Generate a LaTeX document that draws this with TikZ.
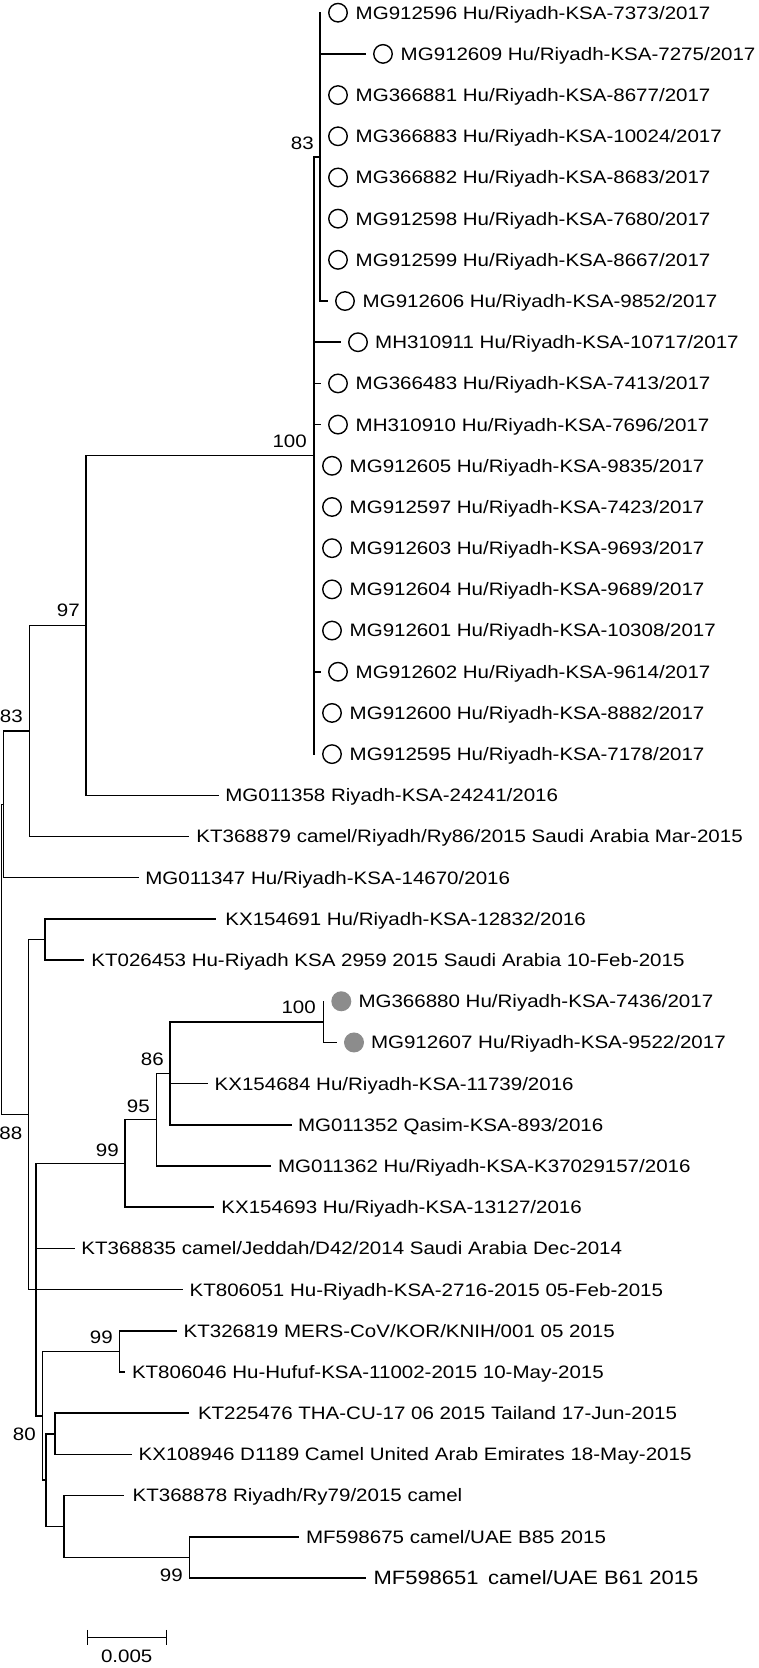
\documentclass[tikz,border=0pt]{standalone}
\usepackage{fontspec}
\setmainfont{Liberation Sans}[FakeStretch=1.14]
\newcommand\mkleaf[5]{%
  \coordinate (#1) at (#3,{12.7+41.19*#2});
  \node[lbl] (#1t) at (#4-1.5,{12.7+41.19*#2}) {#5};}
\newcommand\mkopen[1]{\node[openc] (#1m) at ([xshift=18pt]#1) {};}
\newcommand\mkfill[1]{\node[fillc] (#1m) at ([xshift=18pt]#1) {};}
\begin{document}
\begin{tikzpicture}[x=1pt,y=-1pt,
  br/.style={line width=1.5pt,line cap=rect},
  lbl/.style={anchor=base west,inner sep=0pt,yshift=-6.4pt,font=\fontsize{18}{22}\selectfont},
  biglbl/.style={lbl,font=\fontsize{19.3}{23}\selectfont},
  bs/.style={anchor=east,inner sep=0pt,font=\fontsize{18}{22}\selectfont},
  openc/.style={circle,draw=black,line width=1.4pt,minimum size=18.5pt,inner sep=0pt},
  fillc/.style={circle,fill=black!45,minimum size=20pt,inner sep=0pt}]
\useasboundingbox (0,0) rectangle (758,1668);
% internal nodes
\coordinate (n83a) at (320,156.85);
\coordinate (n100a) at (314,455.5);
\coordinate (n97) at (86,625.4);
\coordinate (n83b) at (29.3,731.0);
\coordinate (nA) at (3.3,804.3);
\coordinate (root) at (1.5,959.4);
\coordinate (n88) at (28.3,1114.55);
\coordinate (nKX) at (45,939.5);
\coordinate (n36) at (36,1289.6);
\coordinate (n99a) at (125,1163.45);
\coordinate (n95) at (156.7,1119.7);
\coordinate (n86) at (170,1073.35);
\coordinate (n100b) at (323.3,1021.9);
\coordinate (n80) at (42.7,1415.75);
\coordinate (n99b) at (119.3,1351.4);
\coordinate (nB) at (46,1480.1);
\coordinate (nKTKX) at (55,1433.8);
\coordinate (nKTMF) at (64,1526.4);
\coordinate (n99c) at (189.3,1557.3);
% leaves
\mkleaf{L0}{0}{320}{357}{MG912596 Hu/Riyadh-KSA-7373/2017}
\mkleaf{L1}{1}{365}{402}{MG912609 Hu/Riyadh-KSA-7275/2017}
\mkleaf{L2}{2}{320}{357}{MG366881 Hu/Riyadh-KSA-8677/2017}
\mkleaf{L3}{3}{320}{357}{MG366883 Hu/Riyadh-KSA-10024/2017}
\mkleaf{L4}{4}{320}{357}{MG366882 Hu/Riyadh-KSA-8683/2017}
\mkleaf{L5}{5}{320}{357}{MG912598 Hu/Riyadh-KSA-7680/2017}
\mkleaf{L6}{6}{320}{357}{MG912599 Hu/Riyadh-KSA-8667/2017}
\mkleaf{L7}{7}{327}{364}{MG912606 Hu/Riyadh-KSA-9852/2017}
\mkleaf{L8}{8}{340}{376.5}{MH310911 Hu/Riyadh-KSA-10717/2017}
\mkleaf{L9}{9}{320}{357}{MG366483 Hu/Riyadh-KSA-7413/2017}
\mkleaf{L10}{10}{320}{357}{MH310910 Hu/Riyadh-KSA-7696/2017}
\mkleaf{L11}{11}{314}{351}{MG912605 Hu/Riyadh-KSA-9835/2017}
\mkleaf{L12}{12}{314}{351}{MG912597 Hu/Riyadh-KSA-7423/2017}
\mkleaf{L13}{13}{314}{351}{MG912603 Hu/Riyadh-KSA-9693/2017}
\mkleaf{L14}{14}{314}{351}{MG912604 Hu/Riyadh-KSA-9689/2017}
\mkleaf{L15}{15}{314}{351}{MG912601 Hu/Riyadh-KSA-10308/2017}
\mkleaf{L16}{16}{320}{357}{MG912602 Hu/Riyadh-KSA-9614/2017}
\mkleaf{L17}{17}{314}{351}{MG912600 Hu/Riyadh-KSA-8882/2017}
\mkleaf{L18}{18}{314}{351}{MG912595 Hu/Riyadh-KSA-7178/2017}
\mkleaf{L19}{19}{218.3}{226.7}{MG011358 Riyadh-KSA-24241/2016}
\mkleaf{L20}{20}{188.3}{197.7}{KT368879 camel/Riyadh/Ry86/2015 Saudi Arabia Mar-2015}
\mkleaf{L21}{21}{138.3}{146.7}{MG011347 Hu/Riyadh-KSA-14670/2016}
\mkleaf{L22}{22}{215}{226.7}{KX154691 Hu/Riyadh-KSA-12832/2016}
\mkleaf{L23}{23}{83.3}{92.7}{KT026453 Hu-Riyadh KSA 2959 2015 Saudi Arabia 10-Feb-2015}
\mkleaf{L24}{24}{323.3}{359.8}{MG366880 Hu/Riyadh-KSA-7436/2017}
\mkleaf{L25}{25}{336}{372.3}{MG912607 Hu/Riyadh-KSA-9522/2017}
\mkleaf{L26}{26}{207.3}{216}{KX154684 Hu/Riyadh-KSA-11739/2016}
\mkleaf{L27}{27}{291.7}{299.3}{MG011352 Qasim-KSA-893/2016}
\mkleaf{L28}{28}{270}{279.3}{MG011362 Hu/Riyadh-KSA-K37029157/2016}
\mkleaf{L29}{29}{213.3}{222.7}{KX154693 Hu/Riyadh-KSA-13127/2016}
\mkleaf{L30}{30}{74}{82.7}{KT368835 camel/Jeddah/D42/2014 Saudi Arabia Dec-2014}
\mkleaf{L31}{31}{182.7}{191}{KT806051 Hu-Riyadh-KSA-2716-2015 05-Feb-2015}
\mkleaf{L32}{32}{176.7}{185}{KT326819 MERS-CoV/KOR/KNIH/001 05 2015}
\mkleaf{L33}{33}{124}{133.3}{KT806046 Hu-Hufuf-KSA-11002-2015 10-May-2015}
\mkleaf{L34}{34}{188.3}{199.3}{KT225476 THA-CU-17 06 2015 Tailand 17-Jun-2015}
\mkleaf{L35}{35}{131.7}{140}{KX108946 D1189 Camel United Arab Emirates 18-May-2015}
\mkleaf{L36}{36}{123.3}{134}{KT368878 Riyadh/Ry79/2015 camel}
\mkleaf{L37}{37}{298.3}{307.3}{MF598675 camel/UAE B85 2015}
\coordinate (L38) at (365,{12.7+41.19*38});
\node[biglbl] (L38t) at (373.3,{12.7+41.19*38}) {MF598651\, camel/UAE B61 2015};
% markers
\foreach \k in {0,...,18}{\mkopen{L\k}}
\mkfill{L24}
\mkfill{L25}
% branches
\foreach \k in {0,...,7}{\draw[br] (n83a) |- (L\k);}
\draw[br] (n100a) |- (n83a);
\foreach \k in {8,...,18}{\draw[br] (n100a) |- (L\k);}
\draw[br] (n97) |- (n100a);
\draw[br] (n97) |- (L19);
\draw[br] (n83b) |- (n97);
\draw[br] (n83b) |- (L20);
\draw[br] (nA) |- (n83b);
\draw[br] (nA) |- (L21);
\draw[br] (root) |- (nA);
\draw[br] (root) |- (n88);
\draw[br] (n88) |- (nKX);
\draw[br] (n88) |- (n36);
\draw[br] (n88) |- (L31);
\draw[br] (nKX) |- (L22);
\draw[br] (nKX) |- (L23);
\draw[br] (n36) |- (n99a);
\draw[br] (n36) |- (L30);
\draw[br] (n36) |- (n80);
\draw[br] (n99a) |- (n95);
\draw[br] (n99a) |- (L29);
\draw[br] (n95) |- (n86);
\draw[br] (n95) |- (L28);
\draw[br] (n86) |- (n100b);
\draw[br] (n86) |- (L26);
\draw[br] (n86) |- (L27);
\draw[br] (n100b) |- (L24);
\draw[br] (n100b) |- (L25);
\draw[br] (n80) |- (n99b);
\draw[br] (n80) |- (nB);
\draw[br] (n99b) |- (L32);
\draw[br] (n99b) |- (L33);
\draw[br] (nB) |- (nKTKX);
\draw[br] (nB) |- (nKTMF);
\draw[br] (nKTKX) |- (L34);
\draw[br] (nKTKX) |- (L35);
\draw[br] (nKTMF) |- (L36);
\draw[br] (nKTMF) |- (n99c);
\draw[br] (n99c) |- (L37);
\draw[br] (n99c) |- (L38);
% bootstrap values
\node[bs] (b83a) at (314,143.3) {83};
\node[bs] (b100a) at (307,441.7) {100};
\node[bs] (b97) at (80,610.7) {97};
\node[bs] (b83b) at (23,716.7) {83};
\node[bs] (b88) at (22.5,1133.3) {88};
\node[bs] (b100b) at (316,1007) {100};
\node[bs] (b86) at (164,1059) {86};
\node[bs] (b95) at (150,1106) {95};
\node[bs] (b99a) at (119,1150) {99};
\node[bs] (b99b) at (113,1337) {99};
\node[bs] (b80) at (36,1434) {80};
\node[bs] (b99c) at (183,1575) {99};
% scale bar
\coordinate (sbL) at (87.3,1637.3);
\coordinate (sbR) at (166.7,1637.3);
\draw[line width=1.4pt] (sbL) -- (sbR);
\draw[line width=1.4pt] ([yshift=7.5pt]sbL) -- ([yshift=-7.5pt]sbL);
\draw[line width=1.4pt] ([yshift=7.5pt]sbR) -- ([yshift=-7.5pt]sbR);
\node[inner sep=0pt,font=\fontsize{18}{22}\selectfont] (sbt) at (126.7,1656.7) {0.005};
\end{tikzpicture}
\end{document}
